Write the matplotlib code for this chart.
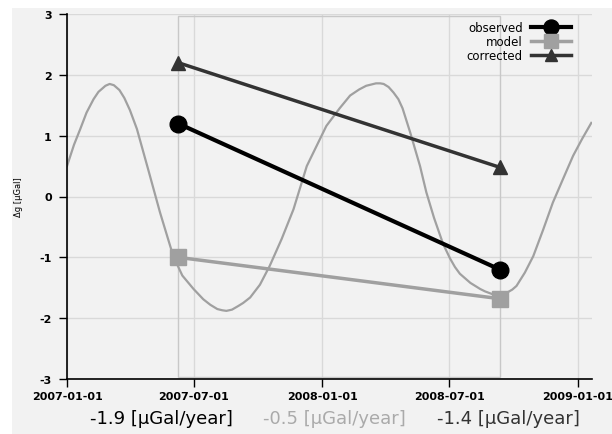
import numpy as np
import matplotlib
matplotlib.use("Agg")
import matplotlib.pyplot as plt
import matplotlib.dates as mdates
from matplotlib.patches import Rectangle

# ---- data ----
obs_dates = ["2007-06-09", "2008-09-11"]
observed = [1.2, -1.2]
model_pts = [-1.0, -1.68]
corrected = [2.2, 0.48]

curve_days = [0, 10, 19, 28, 38, 45, 55, 61, 67, 75, 82, 90, 100, 116, 133, 152, 165,
              181, 195, 205, 215, 222, 228, 236, 245, 252, 262, 276, 290, 307, 324,
              343, 371, 390, 405, 418, 428, 435, 442, 448, 453, 460, 467, 474, 480,
              491, 505, 514, 525, 538, 548, 555, 562, 577, 591, 598, 605, 612, 619, 625,
              631, 637, 643, 655, 667, 681, 695, 710, 724, 737, 750]
curve_vals = [0.50, 0.85, 1.11, 1.38, 1.60, 1.72, 1.82, 1.85, 1.83, 1.75, 1.62, 1.42,
              1.11, 0.45, -0.26, -0.98, -1.30, -1.52, -1.69, -1.78, -1.85, -1.87,
              -1.88, -1.86, -1.80, -1.75, -1.66, -1.45, -1.14, -0.70, -0.21, 0.50,
              1.16, 1.45, 1.66, 1.76, 1.82, 1.84, 1.86, 1.86, 1.85, 1.80, 1.71, 1.60,
              1.45, 1.05, 0.50, 0.07, -0.35, -0.78, -1.02, -1.16, -1.27, -1.42, -1.52,
              -1.56, -1.59, -1.62, -1.63, -1.61, -1.57, -1.53, -1.47, -1.25, -0.98,
              -0.55, -0.10, 0.30, 0.67, 0.95, 1.21]

tick_labels = ["2007-01-01", "2007-07-01", "2008-01-01", "2008-07-01", "2009-01-01"]
rate_texts = ["-1.9 [\u00b5Gal/year]", "-0.5 [\u00b5Gal/year]", "-1.4 [\u00b5Gal/year]"]
series_names = ["observed", "model", "corrected"]

# ---- plot ----
plt.rcParams['font.family'] = ['DejaVu Sans']
plt.rcParams['axes.unicode_minus'] = False
fig = plt.figure(figsize=(6.12, 4.35), dpi=100, facecolor="white")
bg = "#f2f2f2"
fig.patches.append(Rectangle((12/612, 0), 1, 1 - 9/435, transform=fig.transFigure,
                             facecolor=bg, edgecolor="none", zorder=-10))

ax = fig.add_axes([67/612, 1 - 380/435, (592-67)/612, (380-15)/435])
ax.set_facecolor(bg)

start = np.datetime64("2007-01-01")
cx = start + np.array(curve_days).astype("timedelta64[D]")
od = np.array(obs_dates, dtype="datetime64[D]")

ax.plot(cx, curve_vals, color="#a0a0a0", lw=1.6, zorder=2, solid_joinstyle="round")

ax.add_patch(Rectangle((mdates.date2num(od[0]), -2.96),
                       mdates.date2num(od[1]) - mdates.date2num(od[0]), 5.92,
                       fill=False, edgecolor="#c8c8c8", lw=1.0, zorder=1))

ax.plot(od, observed, color="black", lw=3, marker="o", ms=12, label=series_names[0], zorder=5)
ax.plot(od, model_pts, color="#a0a0a0", lw=2.5, marker="s", ms=11, label=series_names[1], zorder=4)
ax.plot(od, corrected, color="#333333", lw=2.5, marker="^", ms=10, label=series_names[2], zorder=4)

ax.set_xlim(start, start + np.timedelta64(751, "D"))
ax.set_ylim(-3, 3)
ax.set_xticks(np.array(tick_labels, dtype="datetime64[D]"))
ax.set_xticklabels(tick_labels)
ax.set_yticks(range(-3, 4))
ax.tick_params(axis="both", labelsize=8, length=6, width=1, direction="out", colors="black")
ax.tick_params(axis="y", pad=5)
ax.tick_params(axis="x", pad=3)
for lab in ax.get_xticklabels() + ax.get_yticklabels():
    lab.set_fontweight("bold")
ax.grid(True, color="#d9d9d9", lw=1)
ax.set_axisbelow(True)
for s in ["top", "right"]:
    ax.spines[s].set_visible(False)
for s in ["left", "bottom"]:
    ax.spines[s].set_linewidth(1.2)
    ax.spines[s].set_color("black")

ax.set_ylabel("\u0394g [\u00b5Gal]", fontsize=6)
ax.yaxis.set_label_coords(-0.084, 0.5)

leg = ax.legend(loc="upper right", bbox_to_anchor=(577/612, 1 - 16/435),
                bbox_transform=fig.transFigure, frameon=False, markerfirst=False,
                fontsize=8.5, handlelength=3.4, labelspacing=0.1, handletextpad=0.7,
                borderpad=0, markerscale=0.9)

colors = ["black", "#aaaaaa", "#333333"]
xs = [161/612, 334/612, 508/612]
for t, c, x in zip(rate_texts, colors, xs):
    fig.text(x, 1 - 419/435, t, ha="center", va="center", fontsize=13,
             color=c, family="DejaVu Sans")

fig.savefig("out.png", dpi=100, facecolor=fig.get_facecolor())
